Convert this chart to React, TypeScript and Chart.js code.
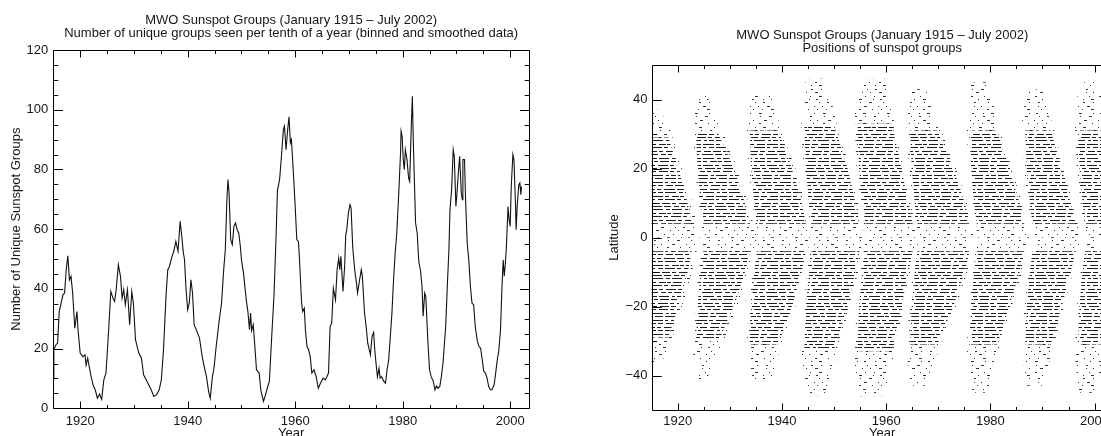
import React, { useEffect, useRef } from 'react';
import { Chart, registerables } from 'chart.js';

Chart.register(...registerables);

const FONT = "'Liberation Sans', Arial, sans-serif";
const INK = '#161616';
const TITLE = 'MWO Sunspot Groups (January 1915 \u2013 July 2002)';
const LEFT_SUBTITLE = 'Number of unique groups seen per tenth of a year (binned and smoothed data)';
const RIGHT_SUBTITLE = 'Positions of sunspot groups';

const X_MIN = 1915;
const X_MAX = 2003.5;
const xMajorTicks = [1920, 1940, 1960, 1980, 2000];
const xMinorTicks = [1925, 1930, 1935, 1945, 1950, 1955, 1965, 1970, 1975, 1985, 1990, 1995];
const countMajorTicks = [0, 20, 40, 60, 80, 100, 120];
const countMinorTicks = [5, 10, 15, 25, 30, 35, 45, 50, 55, 65, 70, 75, 85, 90, 95, 105, 110, 115];
const latMajorTicks = [-40, -20, 0, 20, 40];
const latMinorTicks = [-30, -10, 10, 30];

// ---- Left panel: number of unique groups (binned & smoothed) ----
const groupYears = [
  1915.0, 1915.1, 1915.5, 1915.8, 1916.1, 1916.8, 1917.1, 1917.4, 1917.7, 1918.0,
  1918.3, 1918.6, 1919.0, 1919.4, 1919.6, 1920.0, 1920.5, 1920.9, 1921.1, 1921.4,
  1921.9, 1922.4, 1922.8, 1923.2, 1923.6, 1924.0, 1924.4, 1924.8, 1925.3, 1925.7,
  1926.1, 1926.4, 1926.7, 1927.1, 1927.5, 1927.8, 1928.1, 1928.4, 1928.8, 1929.2,
  1929.6, 1929.9, 1930.3, 1930.9, 1931.4, 1931.8, 1932.6, 1933.2, 1933.7, 1934.2,
  1934.7, 1935.1, 1935.5, 1936.0, 1936.3, 1936.6, 1937.0, 1937.4, 1937.8, 1938.2,
  1938.6, 1938.9, 1939.2, 1939.4, 1939.7, 1940.0, 1940.3, 1940.6, 1940.9, 1941.2,
  1941.6, 1942.2, 1942.7, 1943.2, 1943.5, 1943.9, 1944.2, 1944.6, 1944.9, 1945.3,
  1945.8, 1946.3, 1946.7, 1947.0, 1947.3, 1947.5, 1947.7, 1948.0, 1948.3, 1948.6,
  1948.9, 1949.2, 1949.5, 1949.8, 1950.0, 1950.4, 1950.9, 1951.2, 1951.5, 1951.7,
  1951.9, 1952.2, 1952.5, 1952.8, 1953.3, 1953.6, 1954.1, 1954.4, 1954.9, 1955.2,
  1955.6, 1956.05, 1956.4, 1956.7, 1957.1, 1957.4, 1957.8, 1958.0, 1958.3, 1958.6,
  1958.85, 1959.1, 1959.3, 1959.45, 1959.7, 1960.0, 1960.3, 1960.6, 1960.8, 1961.2,
  1961.4, 1961.7, 1961.9, 1962.2, 1962.5, 1962.8, 1963.1, 1963.5, 1963.9, 1964.3,
  1964.7, 1965.2, 1965.6, 1965.9, 1966.2, 1966.5, 1966.8, 1967.1, 1967.5, 1967.8,
  1968.1, 1968.3, 1968.5, 1968.9, 1969.2, 1969.4, 1969.6, 1969.9, 1970.2, 1970.4,
  1970.7, 1970.9, 1971.1, 1971.4, 1971.6, 1971.9, 1972.3, 1972.5, 1972.9, 1973.2,
  1973.5, 1974.0, 1974.3, 1974.6, 1974.8, 1975.1, 1975.3, 1975.6, 1975.8, 1976.1,
  1976.5, 1976.8, 1977.1, 1977.4, 1977.7, 1978.0, 1978.3, 1978.6, 1978.9, 1979.3,
  1979.6, 1979.7, 1979.9, 1980.1, 1980.3, 1980.5, 1980.8, 1981.1, 1981.3, 1981.6,
  1981.8, 1982.0, 1982.4, 1982.7, 1983.0, 1983.3, 1983.6, 1983.8, 1984.1, 1984.3,
  1984.7, 1985.0, 1985.3, 1985.7, 1986.0, 1986.3, 1986.6, 1986.9, 1987.2, 1987.5,
  1988.0, 1988.3, 1988.6, 1988.8, 1989.1, 1989.4, 1989.6, 1989.9, 1990.1, 1990.4,
  1990.6, 1990.9, 1991.1, 1991.2, 1991.5, 1991.7, 1992.0, 1992.3, 1992.6, 1992.9,
  1993.2, 1993.5, 1993.9, 1994.2, 1994.5, 1994.8, 1995.1, 1995.4, 1995.7, 1996.0,
  1996.3, 1996.6, 1997.0, 1997.3, 1997.6, 1997.9, 1998.2, 1998.5, 1998.7, 1998.9,
  1999.1, 1999.3, 1999.6, 1999.8, 2000.0, 2000.2, 2000.5, 2000.7, 2001.0, 2001.1,
  2001.3, 2001.6, 2001.8, 2002.0, 2002.1,
];
const groupCounts = [
  10, 19.6, 21.3, 21.8, 32.4, 38, 38.6, 46.4, 51.1, 43,
  44.2, 38.6, 26.8, 32.4, 26.3, 18.5, 17.3, 17.9, 14.5, 16.8,
  11.8, 7.8, 6.2, 3.4, 4.8, 3.0, 9.5, 11.8, 26.3, 39.1,
  36.9, 35.8, 39.7, 48.1, 44.2, 36.9, 39.7, 34.7, 39.7, 28,
  39.1, 35.2, 22.9, 18.5, 16.8, 11.2, 8.4, 6.2, 4.0, 4.5,
  6.2, 9.5, 19.6, 38.6, 46.4, 47.5, 50.3, 52.5, 55.9, 52.6,
  62.6, 57.6, 52, 50, 39.7, 33, 35.2, 43, 38.6, 28,
  26.3, 23.5, 17.3, 12.9, 10.6, 5.6, 3.4, 10.6, 13.4, 20.7,
  28.5, 35.2, 46.4, 53, 70, 76.6, 72, 56.5, 54.8, 60.9,
  62.1, 59.8, 58.7, 54.2, 49.8, 45, 36.3, 32.4, 26.3, 31.9,
  26, 28, 20.7, 12.9, 11.8, 6.2, 2.3, 4, 7.3, 9,
  22.9, 37.5, 55, 73, 76.6, 83.3, 93.3, 94.5, 86.6, 93.3,
  97.6, 88.9, 90, 85.5, 77.7, 67.6, 56.5, 55.9, 50, 35.2,
  32.4, 33.5, 26.3, 20.7, 19.6, 17.3, 11.8, 12.9, 10.6, 6.7,
  8.4, 10.1, 9.5, 10.6, 11.8, 27.4, 28.5, 40.2, 36.3, 46.4,
  50.3, 46.4, 50.9, 39.1, 47.5, 58, 59.8, 65.4, 68.2, 67.1,
  54.2, 49.8, 46, 42, 38.6, 42, 46.4, 44.2, 31.9, 27.4,
  21.8, 17.9, 24.1, 25.4, 19.6, 14, 10.6, 13.4, 10.1, 10.6,
  9, 8.4, 12.9, 16.2, 24.1, 31.9, 43, 52, 58.7, 73.2,
  85.5, 92.8, 91.1, 83.3, 79.9, 86.6, 83.3, 77.1, 76, 94.5,
  104.5, 87.7, 62.1, 58.7, 49, 46.4, 40.8, 30.8, 38.6, 37.5,
  21.8, 12.9, 10.6, 9, 6.2, 7.5, 6.7, 7.3, 10.6, 15.1,
  27.4, 40.8, 53, 66.5, 73.2, 86.6, 84.4, 67.6, 72.1, 79.9,
  84.4, 72.1, 69.9, 83.3, 83.3, 69.9, 55.3, 49.7, 40.8, 35.2,
  34.7, 27.4, 22.4, 20.7, 20.1, 16.2, 12.3, 11.8, 10.1, 7.3,
  6.2, 6.2, 7.8, 11.8, 16.2, 19.6, 26.3, 42, 49.7, 44.2,
  48.6, 54.2, 67.6, 63.2, 60.9, 74.3, 85, 83.3, 67.6, 59.8,
  67.6, 74.9, 75.5, 71.5, 74.3,
];

// ---- Right panel: butterfly wings, northern outline [year, latitude] (south mirrored) ----
// "outer" = sparse scatter of groups, "core" = dense band of groups
const cycle15Outer = [[1914, 37], [1916.6, 37], [1918.6, 31], [1920.6, 21], [1922.6, 11], [1923.6, 4], [1924.2, 0], [1914, 0]];
const cycle15Core = [[1914, 29], [1918.2, 29], [1920.1, 20], [1921.9, 10], [1922.7, 4], [1914, 4]];
const cycle16Outer = [[1923.6, 41], [1925.6, 41], [1928.8, 30], [1931.6, 20], [1933.6, 10], [1934.6, 3], [1935.2, 0], [1925.0, 0], [1924.2, 8], [1923.3, 20], [1922.9, 33]];
const cycle16Core = [[1923.5, 30], [1927.8, 30], [1930.8, 20], [1932.9, 10], [1933.9, 4], [1924.9, 4], [1924.4, 10], [1923.8, 20]];
const cycle17Outer = [[1934.0, 41], [1937.9, 41], [1940.1, 30], [1942.6, 20], [1944.4, 10], [1945.1, 3], [1945.6, 0], [1935.4, 0], [1934.5, 8], [1933.6, 20], [1933.2, 32]];
const cycle17Core = [[1933.8, 31], [1939.3, 31], [1941.9, 20], [1943.8, 10], [1944.6, 4], [1935.2, 4], [1934.7, 10], [1934.1, 20]];
const cycle18Outer = [[1944.6, 46], [1948.6, 46], [1950.6, 32], [1953.1, 20], [1954.6, 10], [1955.3, 3], [1955.8, 0], [1945.9, 0], [1945.0, 8], [1944.1, 20], [1943.7, 33]];
const cycle18Core = [[1944.3, 32], [1950.1, 32], [1952.6, 20], [1954.1, 10], [1954.9, 4], [1945.7, 4], [1945.2, 10], [1944.6, 20]];
const cycle19Outer = [[1955.0, 46], [1959.9, 46], [1961.6, 33], [1963.4, 20], [1964.8, 10], [1965.5, 3], [1966.0, 0], [1956.2, 0], [1955.2, 8], [1954.3, 20], [1953.9, 36]];
const cycle19Core = [[1954.5, 33], [1961.1, 33], [1962.9, 20], [1964.3, 10], [1965.1, 4], [1956.0, 4], [1955.4, 10], [1954.8, 20]];
const cycle20Outer = [[1964.8, 43], [1967.6, 43], [1970.1, 33], [1973.4, 20], [1975.6, 10], [1976.4, 3], [1976.9, 0], [1966.2, 0], [1965.3, 8], [1964.4, 20], [1963.9, 33]];
const cycle20Core = [[1964.6, 31], [1969.8, 31], [1972.9, 20], [1975.1, 10], [1976.0, 4], [1966.0, 4], [1965.5, 10], [1964.9, 20]];
const cycle21Outer = [[1976.3, 45], [1979.4, 45], [1981.6, 33], [1984.1, 20], [1986.1, 10], [1986.9, 3], [1987.4, 0], [1977.6, 0], [1976.7, 8], [1975.8, 20], [1975.4, 34]];
const cycle21Core = [[1976.0, 31], [1981.3, 31], [1983.6, 20], [1985.6, 10], [1986.5, 4], [1977.4, 4], [1976.9, 10], [1976.3, 20]];
const cycle22Outer = [[1987.0, 43], [1990.1, 43], [1991.9, 33], [1994.1, 20], [1995.9, 10], [1996.9, 3], [1997.4, 0], [1988.3, 0], [1987.4, 8], [1986.5, 20], [1986.1, 34]];
const cycle22Core = [[1986.7, 31], [1991.6, 31], [1993.7, 20], [1995.4, 10], [1996.4, 4], [1988.1, 4], [1987.6, 10], [1987.0, 20]];
const cycle23Outer = [[1997.0, 45], [2000.1, 45], [2002.6, 36], [2002.6, 0], [1998.4, 0], [1997.5, 8], [1996.6, 20], [1996.2, 34]];
const cycle23Core = [[1996.8, 31], [2002.6, 31], [2002.6, 4], [1998.2, 4], [1997.7, 10], [1997.1, 20]];

const outerWings = [cycle15Outer, cycle16Outer, cycle17Outer, cycle18Outer, cycle19Outer, cycle20Outer, cycle21Outer, cycle22Outer, cycle23Outer];
const coreWings = [cycle15Core, cycle16Core, cycle17Core, cycle18Core, cycle19Core, cycle20Core, cycle21Core, cycle22Core, cycle23Core];

// texture of the rows of dots (one row per degree of latitude)
const denseRuns = [
  [[0, 8], [10, 14], [17, 27], [29, 33], [36, 45], [47, 52], [55, 62]],
  [[1, 6], [8, 19], [22, 26], [28, 38], [41, 44], [46, 57], [60, 63]],
  [[0, 11], [13, 16], [19, 24], [26, 36], [38, 42], [45, 55], [57, 61]],
  [[2, 9], [12, 21], [23, 27], [30, 41], [43, 50], [53, 58], [60, 64]],
  [[0, 4], [6, 15], [17, 23], [26, 34], [36, 47], [49, 53], [56, 63]],
];
const sparseRuns = [
  [[0, 2], [11, 12], [19, 22], [34, 35], [43, 46], [57, 58]],
  [[5, 6], [14, 17], [28, 29], [38, 40], [51, 52], [60, 61]],
  [[2, 5], [16, 17], [24, 25], [33, 36], [48, 49], [55, 56]],
  [[7, 9], [21, 22], [30, 33], [44, 45], [52, 54], [62, 63]],
];

function makeTile(runs: number[][][], color: string): HTMLCanvasElement {
  const W = 64;
  const ROWS = 20;
  const STEP = 3.45;
  const H = 69;
  const c = document.createElement('canvas');
  c.width = W;
  c.height = H;
  const g = c.getContext('2d')!;
  g.fillStyle = '#ffffff';
  g.fillRect(0, 0, W, H);
  g.fillStyle = color;
  for (let k = 0; k < ROWS; k++) {
    const yy = Math.round(k * STEP) % H;
    const pat = runs[(k * 3) % runs.length];
    const shift = (k * 23) % W;
    for (const [a, b] of pat) {
      const s = (a + shift) % W;
      const len = b - a;
      if (s + len <= W) g.fillRect(s, yy, len, 1);
      else {
        g.fillRect(s, yy, W - s, 1);
        g.fillRect(0, yy, len - (W - s), 1);
      }
    }
  }
  return c;
}

type FrameOpts = {
  xMajor: number[]; xMinor: number[]; yMajor: number[]; yMinor: number[];
  xMajLen: number; xMinLen: number; yMajLen: number; yMinLen: number;
};

function makeFramePlugin(o: FrameOpts) {
  return {
    id: 'idlFrame',
    afterDatasetsDraw(chart: any) {
      const { ctx, chartArea } = chart;
      const xs = chart.scales.x;
      const ys = chart.scales.y;
      const L = Math.round(chartArea.left) + 0.5;
      const R = Math.round(chartArea.right) + 0.5;
      const T = Math.round(chartArea.top) + 0.5;
      const B = Math.round(chartArea.bottom) + 0.5;
      ctx.save();
      ctx.strokeStyle = '#000';
      ctx.lineWidth = 1;
      ctx.beginPath();
      ctx.rect(L, T, R - L, B - T);
      const vt = (v: number, len: number) => {
        const p = Math.round(xs.getPixelForValue(v)) + 0.5;
        ctx.moveTo(p, B); ctx.lineTo(p, B - len);
        ctx.moveTo(p, T); ctx.lineTo(p, T + len);
      };
      const ht = (v: number, len: number) => {
        const p = Math.round(ys.getPixelForValue(v)) + 0.5;
        ctx.moveTo(L, p); ctx.lineTo(L + len, p);
        ctx.moveTo(R, p); ctx.lineTo(R - len, p);
      };
      o.xMajor.forEach((v) => vt(v, o.xMajLen));
      o.xMinor.forEach((v) => vt(v, o.xMinLen));
      o.yMajor.forEach((v) => ht(v, o.yMajLen));
      o.yMinor.forEach((v) => ht(v, o.yMinLen));
      ctx.stroke();
      ctx.restore();
    },
  };
}

const font13 = { family: FONT, size: 13, weight: 'normal' as const };
const titleFont = { family: FONT, size: 13, weight: 'normal' as const, lineHeight: 1 };
const fmtNum = (v: any) => String(v).replace('-', '\u2212');

function xScale(tickPad: number, height: number) {
  return {
    type: 'linear' as const,
    min: X_MIN,
    max: X_MAX,
    afterBuildTicks: (s: any) => { s.ticks = xMajorTicks.map((value) => ({ value })); },
    afterFit: (s: any) => { s.height = height; },
    grid: { display: false, drawTicks: false },
    border: { display: false },
    ticks: { font: font13, color: INK, padding: tickPad, maxRotation: 0, autoSkip: false, callback: fmtNum },
    title: { display: true, text: 'Year', font: font13, color: INK, padding: { top: 0, bottom: 9.2 } },
  };
}

export default function App() {
  const leftRef = useRef<HTMLCanvasElement>(null);
  const rightRef = useRef<HTMLCanvasElement>(null);

  useEffect(() => {
    const left = new Chart(leftRef.current!, {
      type: 'scatter',
      data: {
        datasets: [{
          data: groupYears.map((x, i) => ({ x, y: groupCounts[i] })),
          showLine: true,
          borderColor: '#111',
          borderWidth: 1.1,
          pointRadius: 0,
          fill: false,
        }],
      },
      options: {
        responsive: false,
        animation: false,
        events: [],
        layout: { padding: { left: 0, right: 31, top: 0, bottom: 0 } },
        plugins: {
          legend: { display: false },
          tooltip: { enabled: false },
          title: { display: true, text: TITLE, fullSize: false, color: INK, font: titleFont, padding: { top: 13.5, bottom: 0 } },
          subtitle: { display: true, text: LEFT_SUBTITLE, fullSize: false, color: INK, font: titleFont, padding: { top: 0, bottom: 10.5 } },
        },
        scales: {
          x: xScale(5, 41.7),
          y: {
            type: 'linear',
            min: 0,
            max: 120,
            afterBuildTicks: (s: any) => { s.ticks = countMajorTicks.map((value) => ({ value })); },
            afterFit: (s: any) => { s.width = 53.3; },
            grid: { display: false, drawTicks: false },
            border: { display: false },
            ticks: { font: font13, color: INK, padding: 5, callback: fmtNum },
            title: { display: true, text: 'Number of Unique Sunspot Groups', font: font13, color: INK, padding: { top: 8.7, bottom: 0 } },
          },
        },
      },
      plugins: [makeFramePlugin({
        xMajor: xMajorTicks, xMinor: xMinorTicks, yMajor: countMajorTicks, yMinor: countMinorTicks,
        xMajLen: 7, xMinLen: 3.5, yMajLen: 9.5, yMinLen: 4.8,
      })],
    } as any);

    const rctx = rightRef.current!.getContext('2d')!;
    const densePattern = rctx.createPattern(makeTile(denseRuns, '#1e1e1e'), 'repeat')!;
    const sparsePattern = rctx.createPattern(makeTile(sparseRuns, '#333333'), 'repeat')!;

    const wingSet = (poly: number[][], sign: number, pattern: CanvasPattern, order: number) => ({
      data: poly.map(([x, y]) => ({ x, y: sign * y })),
      showLine: true,
      fill: 'shape',
      backgroundColor: pattern,
      borderColor: 'rgba(0,0,0,0)',
      borderWidth: 0,
      pointRadius: 0,
      order,
    });
    const datasets: any[] = [];
    outerWings.forEach((p) => { datasets.push(wingSet(p, 1, sparsePattern, 2)); datasets.push(wingSet(p, -1, sparsePattern, 2)); });
    coreWings.forEach((p) => { datasets.push(wingSet(p, 1, densePattern, 1)); datasets.push(wingSet(p, -1, densePattern, 1)); });

    const right = new Chart(rightRef.current!, {
      type: 'scatter',
      data: { datasets },
      options: {
        responsive: false,
        animation: false,
        events: [],
        layout: { padding: { left: 0, right: 17.2, top: 0, bottom: 0 } },
        plugins: {
          legend: { display: false },
          tooltip: { enabled: false },
          title: { display: true, text: TITLE, fullSize: false, color: INK, font: titleFont, padding: { top: 29, bottom: 0 } },
          subtitle: { display: true, text: RIGHT_SUBTITLE, fullSize: false, color: INK, font: titleFont, padding: { top: 0, bottom: 10 } },
        },
        scales: {
          x: xScale(3.4, 40),
          y: {
            type: 'linear',
            min: -50,
            max: 50,
            afterBuildTicks: (s: any) => { s.ticks = latMajorTicks.map((value) => ({ value })); },
            afterFit: (s: any) => { s.width = 91.7; },
            grid: { display: false, drawTicks: false },
            border: { display: false },
            ticks: { font: font13, color: INK, padding: 4.2, callback: fmtNum },
            title: { display: true, text: 'Latitude', font: font13, color: INK, padding: { top: 46.2, bottom: 0 } },
          },
        },
      },
      plugins: [makeFramePlugin({
        xMajor: xMajorTicks, xMinor: xMinorTicks, yMajor: latMajorTicks, yMinor: latMinorTicks,
        xMajLen: 7, xMinLen: 3.5, yMajLen: 9.2, yMinLen: 4.6,
      })],
    } as any);

    const y0 = Math.floor(right.scales.y.getPixelForValue(0));
    const m = new DOMMatrix([1, 0, 0, 1, 0, y0]);
    densePattern.setTransform(m);
    sparsePattern.setTransform(m);
    right.draw();

    return () => {
      left.destroy();
      right.destroy();
    };
  }, []);

  return (
    <div style={{ position: 'fixed', left: 0, top: 0, width: 1101, height: 436, overflow: 'hidden', background: '#fff' }}>
      <canvas ref={leftRef} width={560} height={450} style={{ position: 'absolute', left: 0, top: 0, display: 'block' }} />
      <canvas ref={rightRef} width={570} height={450} style={{ position: 'absolute', left: 560, top: 0, display: 'block' }} />
    </div>
  );
}
